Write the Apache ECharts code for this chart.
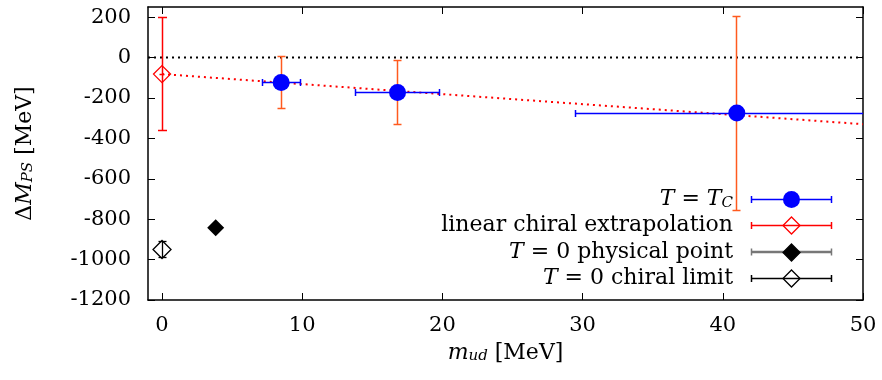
<!DOCTYPE html>
<html>
<head>
<meta charset="utf-8">
<script src="https://cdn.jsdelivr.net/npm/echarts@6/dist/echarts.min.js"></script>
<style>
html,body{margin:0;padding:0;background:#fff;}
#c{width:882px;height:380px;}
</style>
</head>
<body>
<div id="c"></div>
<script>
// ---- data ----
var xTicks = [0, 10, 20, 30, 40, 50];
var yTicks = [-1200, -1000, -800, -600, -400, -200, 0, 200];
// T = T_C points: x, y, x-error, y-error
var tcX = [8.5, 16.8, 41.0];
var tcY = [-124, -173, -275];
var tcXErr = [1.35, 3.0, 11.5];
var tcYErr = [130, 160, 480];
// linear chiral extrapolation
var extX = [0];
var extY = [-82];
var extXErr = [0.2];
var extYErr = [280];
// linear fit line
var fitX = [0, 50];
var fitY = [-82, -330];
// T = 0 physical point
var physX = [3.83];
var physY = [-843];
// T = 0 chiral limit
var chX = [0];
var chY = [-950];
var chYErr = [41];
// zero reference line
var zeroX = [-1, 50];
var zeroY = [0, 0];

var FONT = 'DejaVu Serif';
var ORANGE = '#ff5a1e';
var BLUE = '#0000ff';
var RED = '#ff0000';

function zip2(a, b) { return a.map(function (v, i) { return [v, b[i]]; }); }
function zip4(a, b, c, d) { return a.map(function (v, i) { return [v, b[i], c[i], d[i]]; }); }
function px(v) { return Math.round(v - 0.5) + 0.5; }

function errRender(colX, colY, capX, capY, lw) {
  return function (params, api) {
    var x = api.value(0), y = api.value(1), ex = api.value(2), ey = api.value(3);
    var children = [];
    var st = function (c) { return {stroke: c, lineWidth: lw}; };
    if (ey > 0) {
      var top = api.coord([x, y + ey]), bot = api.coord([x, y - ey]);
      var cx = px(top[0]), ty = px(top[1]), by = px(bot[1]);
      children.push({type: 'line', shape: {x1: cx, y1: ty, x2: cx, y2: by}, style: st(colY)});
      children.push({type: 'line', shape: {x1: cx - capX, y1: ty, x2: cx + capX, y2: ty}, style: st(colY)});
      children.push({type: 'line', shape: {x1: cx - capX, y1: by, x2: cx + capX, y2: by}, style: st(colY)});
    }
    if (ex > 0) {
      var l = api.coord([x - ex, y]), r = api.coord([x + ex, y]);
      var yy = px(l[1]), lx = px(l[0]), rx = px(r[0]);
      children.push({type: 'line', shape: {x1: lx, y1: yy, x2: rx, y2: yy}, style: st(colX)});
      children.push({type: 'line', shape: {x1: lx, y1: yy - capY, x2: lx, y2: yy + capY}, style: st(colX)});
      children.push({type: 'line', shape: {x1: rx, y1: yy - capY, x2: rx, y2: yy + capY}, style: st(colX)});
    }
    return {type: 'group', children: children};
  };
}

var rich = {
  r: {fontFamily: FONT, fontSize: 22, color: '#000'},
  i: {fontFamily: FONT, fontSize: 22, fontStyle: 'italic', color: '#000'},
  s: {fontFamily: FONT, fontSize: 15, fontStyle: 'italic', color: '#000', verticalAlign: 'bottom', lineHeight: 10}
};

var chart = echarts.init(document.getElementById('c'), null, {renderer: 'canvas'});

function plain(v) { return String(v); }

function baseX(pos, showLabel) {
  return {
    type: 'value', position: pos, min: -1, max: 50,
    axisLine: {show: true, onZero: false, lineStyle: {color: '#000', width: 1.5}},
    axisTick: {show: true, inside: true, length: 7, customValues: xTicks, lineStyle: {color: '#000', width: 1}},
    axisLabel: {show: showLabel, customValues: xTicks, formatter: plain, fontFamily: FONT, fontSize: 21, color: '#000', margin: 15},
    splitLine: {show: false}
  };
}
function baseY(pos, showLabel) {
  return {
    type: 'value', position: pos, min: -1200, max: 250,
    axisLine: {show: true, onZero: false, lineStyle: {color: '#000', width: 1.5}},
    axisTick: {show: true, inside: true, length: 7, customValues: yTicks, lineStyle: {color: '#000', width: 1}},
    axisLabel: {show: showLabel, customValues: yTicks, formatter: plain, fontFamily: FONT, fontSize: 21, color: '#000', margin: 17},
    splitLine: {show: false}
  };
}

var xa0 = baseX('bottom', true);
xa0.name = '{i|m}{s|ud} [MeV]';
xa0.nameLocation = 'middle';
xa0.nameGap = 42;
xa0.nameTextStyle = {fontFamily: FONT, fontSize: 22, color: '#000', rich: rich};
var xa1 = baseX('top', false);
var ya0 = baseY('left', true);
ya0.name = '{r|Δ}{i|M}{s|PS} [MeV]';
ya0.nameLocation = 'middle';
ya0.nameGap = 112;
ya0.nameTextStyle = {fontFamily: FONT, fontSize: 22, color: '#000', rich: rich};
var ya1 = baseY('right', false);

// legend (drawn as graphics)
var LX = 733, L1 = 751.5, L2 = 831.5, LS = 791.5;
var rows = [199.5, 225.5, 252.5, 278.5];
function legLine(y, col, w) {
  return [
    {type: 'line', shape: {x1: L1, y1: y, x2: L2, y2: y}, style: {stroke: col, lineWidth: w}},
    {type: 'line', shape: {x1: L1, y1: y - 3.5, x2: L1, y2: y + 3.5}, style: {stroke: col, lineWidth: 1.5}},
    {type: 'line', shape: {x1: L2, y1: y - 3.5, x2: L2, y2: y + 3.5}, style: {stroke: col, lineWidth: 1.5}}
  ];
}
function diamond(cx, cy, h, fill, stroke) {
  return {type: 'polygon', shape: {points: [[cx, cy - h], [cx + h, cy], [cx, cy + h], [cx - h, cy]]}, style: {fill: fill, stroke: stroke, lineWidth: 1.3}};
}
function legText(y, t) {
  return {type: 'text', x: LX, y: y, style: {text: t, align: 'right', verticalAlign: 'middle', fontFamily: FONT, fontSize: 22, fill: '#000', rich: rich}};
}
var graphics = [];
graphics.push(legText(rows[0], '{i|T} = {i|T}{s|C}'));
graphics = graphics.concat(legLine(rows[0], BLUE, 1.5));
graphics.push({type: 'circle', shape: {cx: LS, cy: rows[0], r: 8.5}, style: {fill: BLUE}});
graphics.push(legText(rows[1], 'linear chiral extrapolation'));
graphics = graphics.concat(legLine(rows[1], RED, 1.5));
graphics.push(diamond(LS, rows[1], 8.5, 'rgba(0,0,0,0)', RED));
graphics.push(legText(rows[2], '{i|T} = 0 physical point'));
graphics = graphics.concat(legLine(rows[2] - 0.5, '#777777', 2.5));
graphics.push(diamond(LS, rows[2], 8.5, '#000', '#000'));
graphics.push(legText(rows[3], '{i|T} = 0 chiral limit'));
graphics = graphics.concat(legLine(rows[3], '#000000', 1.5));
graphics.push(diamond(LS, rows[3], 8.5, 'rgba(0,0,0,0)', '#000'));

var option = {
  animation: false,
  backgroundColor: '#fff',
  grid: {left: 148, right: 19, top: 7, bottom: 80, containLabel: false},
  xAxis: [xa0, xa1],
  yAxis: [ya0, ya1],
  graphic: graphics,
  series: [
    {type: 'line', data: zip2(zeroX, zeroY), symbol: 'none', lineStyle: {color: '#000', width: 2, type: [2, 4]}, z: 1},
    {type: 'line', data: zip2(fitX, fitY), symbol: 'none', lineStyle: {color: RED, width: 2, type: [2, 4]}, z: 2},
    {type: 'custom', clip: true, data: zip4(tcX, tcY, tcXErr, tcYErr), renderItem: errRender(BLUE, ORANGE, 4, 3.5, 1.5), z: 3},
    {type: 'custom', clip: true, data: zip4(extX, extY, extXErr, extYErr), renderItem: errRender(RED, RED, 4.5, 0, 1.5), z: 3},
    {type: 'custom', clip: true, data: zip4(chX, chY, [0], chYErr), renderItem: errRender('#000', '#000', 4, 0, 1.3), z: 3},
    {type: 'scatter', data: zip2(tcX, tcY), symbol: 'circle', symbolSize: 17, itemStyle: {color: BLUE, opacity: 1}, z: 5},
    {type: 'scatter', data: zip2(extX, extY), symbol: 'diamond', symbolSize: 17, itemStyle: {color: 'rgba(0,0,0,0)', borderColor: RED, borderWidth: 1.3, opacity: 1}, z: 5},
    {type: 'scatter', data: zip2(physX, physY), symbol: 'diamond', symbolSize: 17, itemStyle: {color: '#000', opacity: 1}, z: 5},
    {type: 'scatter', data: zip2(chX, chY), symbol: 'diamond', symbolSize: 18, itemStyle: {color: 'rgba(0,0,0,0)', borderColor: '#000', borderWidth: 1.3, opacity: 1}, z: 5}
  ]
};
chart.setOption(option);
</script>
</body>
</html>
